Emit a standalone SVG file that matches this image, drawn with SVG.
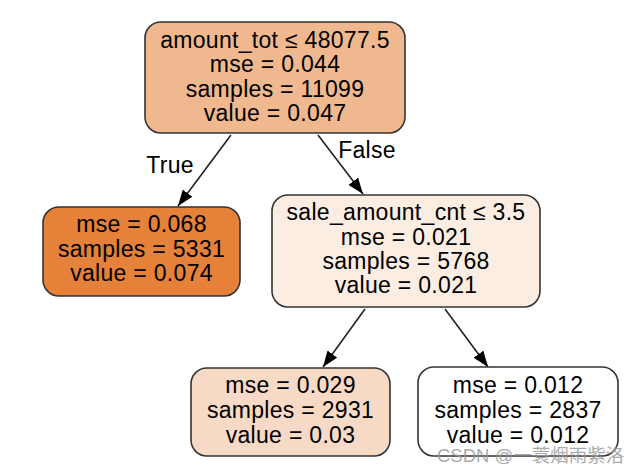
<svg xmlns="http://www.w3.org/2000/svg" width="644" height="471" viewBox="0 0 644 471">
<defs>
<style>
.box{stroke:#333333;stroke-width:1.6}
.t{font-family:"Liberation Sans",Arial,sans-serif;font-size:23px;letter-spacing:0.3px;fill:#000;text-anchor:middle}
.e{stroke:#222;stroke-width:1.6;fill:none}
.wm{font-family:"Liberation Sans","Noto Sans CJK SC",sans-serif;font-size:18.5px;fill:#9a9a9a;fill-opacity:0.85}
</style>
<marker id="ah" viewBox="0 0 16 12" refX="16" refY="6" markerWidth="16" markerHeight="12" markerUnits="userSpaceOnUse" orient="auto">
<path d="M0,0 L16,6 L0,12 Z" fill="#000"/>
</marker>
</defs>
<rect width="644" height="471" fill="#ffffff"/>
<g id="edges">
<line class="e" x1="231" y1="135" x2="178" y2="206" marker-end="url(#ah)"/>
<line class="e" x1="318" y1="135" x2="363" y2="194" marker-end="url(#ah)"/>
<line class="e" x1="365" y1="309" x2="323" y2="367" marker-end="url(#ah)"/>
<line class="e" x1="445" y1="309" x2="488" y2="367" marker-end="url(#ah)"/>
<text class="t" x="170" y="173">True</text>
<text class="t" x="367" y="158">False</text>
</g>
<g id="n0">
<rect class="box" x="145" y="22" width="260" height="111" rx="16" fill="#f0b88f"/>
<text class="t" x="275" y="48">amount_tot ≤ 48077.5</text>
<text class="t" x="275" y="72">mse = 0.044</text>
<text class="t" x="275" y="97">samples = 11099</text>
<text class="t" x="275" y="121">value = 0.047</text>
</g>
<g id="n1">
<rect class="box" x="43" y="207" width="197" height="89" rx="16" fill="#e58139"/>
<text class="t" x="141.5" y="232">mse = 0.068</text>
<text class="t" x="141.5" y="257">samples = 5331</text>
<text class="t" x="141.5" y="281">value = 0.074</text>
</g>
<g id="n2">
<rect class="box" x="272" y="195" width="268" height="112" rx="16" fill="#fbede2"/>
<text class="t" x="406" y="220">sale_amount_cnt ≤ 3.5</text>
<text class="t" x="406" y="245">mse = 0.021</text>
<text class="t" x="406" y="269">samples = 5768</text>
<text class="t" x="406" y="293">value = 0.021</text>
</g>
<g id="n3">
<rect class="box" x="191" y="368" width="199" height="88" rx="16" fill="#f7dac5"/>
<text class="t" x="290.5" y="393">mse = 0.029</text>
<text class="t" x="290.5" y="418">samples = 2931</text>
<text class="t" x="290.5" y="443">value = 0.03</text>
</g>
<g id="n4">
<rect class="box" x="418" y="367" width="200" height="89" rx="16" fill="#ffffff"/>
<text class="t" x="518" y="393">mse = 0.012</text>
<text class="t" x="518" y="418">samples = 2837</text>
<text class="t" x="518" y="443">value = 0.012</text>
</g>
<text class="wm" x="437" y="462">CSDN @一蓑烟雨紫洛</text>
</svg>
